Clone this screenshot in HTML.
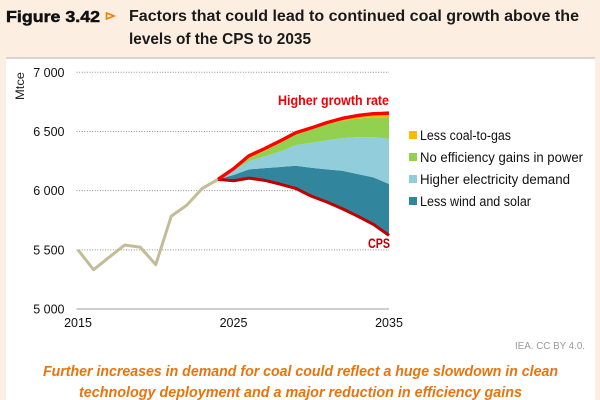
<!DOCTYPE html>
<html>
<head>
<meta charset="utf-8">
<style>
html,body{margin:0;padding:0;background:#fdeee2;}
svg{display:block;}
text{font-family:"Liberation Sans",sans-serif;}
</style>
</head>
<body>
<svg id="chart" width="600" height="400" viewBox="0 0 600 400" xmlns="http://www.w3.org/2000/svg">
  <rect x="0" y="0" width="600" height="400" fill="#fdeee2"/>
  <rect x="6" y="58" width="589" height="342" fill="#ffffff"/>
  <line x1="6" y1="58" x2="595" y2="58" stroke="#c4c0bb" stroke-width="1.2"/>

  <text x="6" y="22" font-size="15.5" font-weight="bold" stroke="#111" stroke-width="0.5" fill="#111" textLength="94" lengthAdjust="spacingAndGlyphs">Figure 3.42</text>
  <polygon points="106.5,13 114,16 106.5,19" fill="#fdeee2" stroke="#ee7f00" stroke-width="1.6"/>
  <text x="129" y="21" font-size="16" font-weight="bold" fill="#1a1a1a" textLength="450" lengthAdjust="spacingAndGlyphs">Factors that could lead to continued coal growth above the</text>
  <text x="129" y="44" font-size="16" font-weight="bold" fill="#1a1a1a" textLength="182" lengthAdjust="spacingAndGlyphs">levels of the CPS to 2035</text>

  <text transform="translate(24,100) rotate(-90)" font-size="12" fill="#222" textLength="28" lengthAdjust="spacingAndGlyphs">Mtce</text>

  <g id="grid"></g>
  <g id="ylabels"></g>
  <g id="xlabels"></g>
  <g id="bands"></g>
  <g id="lines"></g>

  <text x="278" y="105" font-size="13.5" font-weight="bold" fill="#f00000" textLength="111" lengthAdjust="spacingAndGlyphs">Higher growth rate</text>
  <text x="368" y="248" font-size="14" font-weight="bold" fill="#c00000" textLength="22" lengthAdjust="spacingAndGlyphs">CPS</text>

  <g font-size="13.5" fill="#111">
    <g>
      <rect x="409" y="131" width="8" height="8" fill="#ffb900"/>
      <text x="420" y="140" textLength="91" lengthAdjust="spacingAndGlyphs">Less coal-to-gas</text>
    </g>
    <g>
      <rect x="409" y="153" width="8" height="8" fill="#92d050"/>
      <text x="420" y="162" textLength="163" lengthAdjust="spacingAndGlyphs">No efficiency gains in power</text>
    </g>
    <g>
      <rect x="409" y="175" width="8" height="8" fill="#92cddc"/>
      <text x="420" y="184" textLength="150" lengthAdjust="spacingAndGlyphs">Higher electricity demand</text>
    </g>
    <g>
      <rect x="409" y="197" width="8" height="8" fill="#31859c"/>
      <text x="420" y="206" textLength="111" lengthAdjust="spacingAndGlyphs">Less wind and solar</text>
    </g>
  </g>

  <text x="515" y="349" font-size="10.5" fill="#9a9a9a" textLength="70" lengthAdjust="spacingAndGlyphs">IEA. CC BY 4.0.</text>
  <text x="43" y="376" font-size="14.5" font-weight="bold" font-style="italic" fill="#e8740c" textLength="515" lengthAdjust="spacingAndGlyphs">Further increases in demand for coal could reflect a huge slowdown in clean</text>
  <text x="79" y="397" font-size="14.5" font-weight="bold" font-style="italic" fill="#e8740c" textLength="443" lengthAdjust="spacingAndGlyphs">technology deployment and a major reduction in efficiency gains</text>
</svg>
<script>
const historyYears = [2015,2016,2017,2018,2019,2020,2021,2022,2023,2024];
const historyValues = [5500,5332,5437,5540,5523,5375,5785,5878,6020,6095];
const projectionYears = [2024,2025,2026,2027,2028,2029,2030,2031,2032,2033,2034,2035];
const cpsValues = [6095,6084,6106,6087,6055,6019,5954,5904,5847,5783,5715,5622];
const lessWindSolar = [0,48,74,103,145,191,239,276,321,357,397,434];
const higherDemand = [0,33,70,100,130,175,212,245,276,312,341,380];
const noEfficiency = [0,15,23,45,70,90,110,135,146,158,166,186];
const lessCoalToGas = [0,5,22,20,20,14,15,15,21,25,31,33];
const yTicks = [5000,5500,6000,6500,7000];
const yTickLabels = ["5 000","5 500","6 000","6 500","7 000"];
const xTicks = [2015,2025,2035];

const NS = "http://www.w3.org/2000/svg";
function xScale(year){ return 78 + (year - 2015) * (389 - 78) / 20; }
function yScale(v){ return 309 - (v - 5000) * (309 - 72.3) / 2000; }
function make(tag, parent, attrs){
  const el = document.createElementNS(NS, tag);
  for (const k in attrs) el.setAttribute(k, attrs[k]);
  parent.appendChild(el);
  return el;
}
const gridG = document.getElementById("grid");
const yG = document.getElementById("ylabels");
const xG = document.getElementById("xlabels");
const bandG = document.getElementById("bands");
const lineG = document.getElementById("lines");

yTicks.forEach(function(t, i){
  const gl = make("line", gridG, {x1:76.5, x2:389, y1:yScale(t), y2:yScale(t),
    stroke: t === 5000 ? "#bfbfbf" : "#8f8f8f",
    "stroke-width": t === 5000 ? 1.5 : 1,
    "stroke-dasharray": t === 5000 ? "none" : "1 1.6"});
  
  
  const lab = make("text", yG, {x:64.5, y:yScale(t) + 4.5, "text-anchor":"end", "font-size":12.5, fill:"#111"});
  lab.textContent = yTickLabels[i];
  
  
});
xTicks.forEach(function(t){
  const lab = make("text", xG, {x:xScale(t), y:327, "text-anchor":"middle", "font-size":12.5, fill:"#111"});
  lab.textContent = String(t);
  
  
});

const layers = [
  {values:lessWindSolar, fill:"#31859c"},
  {values:higherDemand, fill:"#92cddc"},
  {values:noEfficiency, fill:"#92d050"},
  {values:lessCoalToGas, fill:"#ffb900"}
];
let base = cpsValues.slice();
layers.forEach(function(layer){
  const top = base.map(function(b, i){ return b + layer.values[i]; });
  const pts = [];
  projectionYears.forEach(function(y, i){ pts.push(xScale(y) + "," + yScale(top[i])); });
  for (let i = projectionYears.length - 1; i >= 0; i--) pts.push(xScale(projectionYears[i]) + "," + yScale(base[i]));
  const band = make("polygon", bandG, {points:pts.join(" "), fill:layer.fill});
  
  
  base = top;
});

function linePoints(xs, vs){
  return xs.map(function(y, i){ return xScale(y) + "," + yScale(vs[i]); }).join(" ");
}
const histLine = make("polyline", lineG, {points:linePoints(historyYears, historyValues), fill:"none", stroke:"#c4bc96", "stroke-width":3, "stroke-linejoin":"round"});


const cpsLine = make("polyline", lineG, {points:linePoints(projectionYears, cpsValues), fill:"none", stroke:"#c00000", "stroke-width":3, "stroke-linejoin":"round"});


const topLine = make("polyline", lineG, {points:linePoints(projectionYears, base), fill:"none", stroke:"#ff0000", "stroke-width":3.4, "stroke-linejoin":"round"});


</script>
</body>
</html>
